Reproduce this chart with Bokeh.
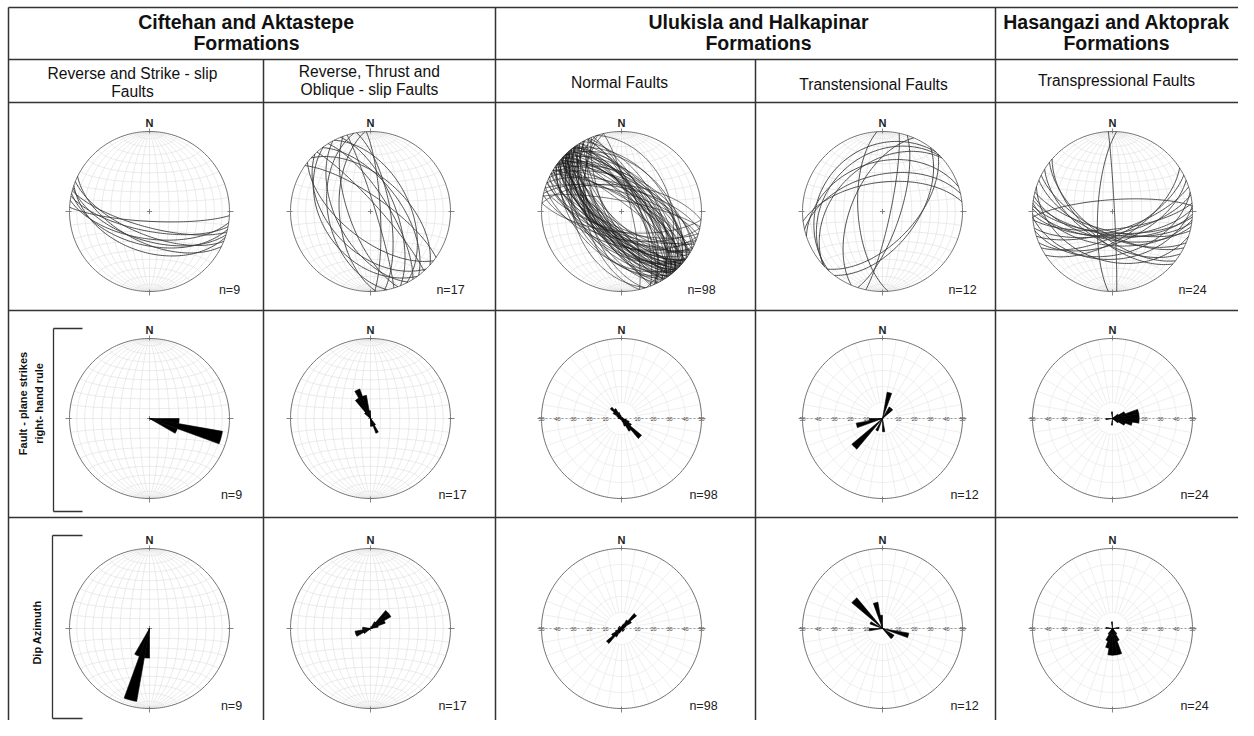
import numpy as np
from bokeh.plotting import figure
from bokeh.models import Range1d
from bokeh.embed import file_html
from bokeh.resources import INLINE
from bokeh.core.properties import value

# ---------------- data ----------------
group_titles = [["Ciftehan and Aktastepe", "Formations"],
                ["Ulukisla and Halkapinar", "Formations"],
                ["Hasangazi and Aktoprak", "Formations"]]
column_titles = [["Reverse and Strike - slip", "Faults"],
                 ["Reverse, Thrust and", "Oblique - slip Faults"],
                 ["Normal Faults"],
                 ["Transtensional Faults"],
                 ["Transpressional Faults"]]
row_labels = [["Fault - plane strikes", "right- hand rule"], ["Dip Azimuth"]]
n_counts = [9, 17, 98, 12, 24]
scale_labels = ["10", "20", "30", "40", "50"]

# fault planes: strike (right-hand rule) and dip, degrees
strikes_c1 = [93, 98, 101, 103, 105, 107, 109, 112, 116]
dips_c1 = [80, 62, 70, 55, 74, 60, 48, 66, 58]

strikes_c2 = [305, 312, 318, 323, 328, 333, 338, 343, 350, 357,
              128, 136, 144, 152, 160, 168, 176]
dips_c2 = [75, 55, 82, 60, 72, 50, 65, 85, 70, 80,
           62, 48, 40, 55, 68, 46, 58]

strikes_c3 = [102, 106, 108, 111, 114, 116, 119, 121, 122, 124,
              125, 127, 128, 129, 130, 131, 132, 133, 134, 134,
              135, 136, 136, 137, 138, 138, 139, 139, 131, 140,
              141, 142, 143, 144, 145, 146, 147, 148, 149, 151,
              153, 156, 158, 162, 167, 283, 287, 291, 295, 298,
              301, 303, 305, 307, 309, 310, 311, 312, 314, 315,
              316, 318, 319, 320, 322, 323, 325, 326, 328, 329,
              331, 334, 336, 339, 342, 347, 112, 118, 126, 133,
              137, 141, 144, 152, 301, 306, 313, 317, 321, 324,
              308, 298, 96, 276, 281, 163, 335, 127]
dips_c3 = [62, 70, 55, 68, 74, 58, 66, 72, 60, 78,
           52, 65, 70, 63, 57, 75, 68, 61, 42, 80,
           66, 71, 59, 64, 76, 50, 69, 62, 73, 58,
           67, 45, 79, 63, 70, 48, 65, 72, 60, 77,
           56, 68, 74, 40, 53, 66, 71, 64, 58, 75,
           69, 62, 57, 82, 65, 70, 52, 67, 43, 60,
           78, 63, 55, 71, 66, 59, 74, 68, 61, 76,
           54, 69, 64, 72, 38, 80, 63, 67, 50, 70,
           65, 73, 58, 62, 77, 55, 68, 71, 44, 66,
           74, 53, 69, 63, 79, 57, 72, 65]

strikes_c4 = [12, 18, 37, 44, 176, 203, 222, 226, 228, 252, 257, 263]
dips_c4 = [82, 72, 55, 58, 65, 58, 22, 30, 40, 38, 52, 60]

strikes_c5 = [57, 63, 67, 72, 128, 76, 78, 131, 84, 86, 88, 92,
              94, 96, 98, 101, 104, 108, 113, 117, 122, 357, 183, 266]
dips_c5 = [62, 66, 58, 70, 64, 45, 67, 60, 72, 40, 65, 63,
           68, 55, 66, 61, 70, 38, 64, 67, 58, 88, 75, 78]

# rose diagrams: 10-degree bin centres and counts
rose_strike_bins_c1 = [95, 105, 115]
rose_strike_counts_c1 = [2, 5, 2]
rose_dip_bins_c1 = [185, 195, 205]
rose_dip_counts_c1 = [2, 5, 2]

rose_strike_bins_c2 = [315, 325, 335, 345, 355, 145, 155, 165, 175]
rose_strike_counts_c2 = [1, 3, 4, 3, 1, 1, 2, 1, 1]
rose_dip_bins_c2 = [35, 45, 55, 65, 75, 235, 245, 255, 265, 275]
rose_dip_counts_c2 = [1, 3, 3, 2, 1, 1, 2, 2, 1, 1]

rose_strike_bins_c3 = [105, 115, 125, 135, 145, 155, 165, 285, 295, 305,
                       315, 325, 335, 345, 45, 75, 225, 255, 85, 275]
rose_strike_counts_c3 = [3, 5, 7, 16, 9, 5, 2, 2, 3, 6,
                         9, 7, 4, 2, 1, 1, 1, 1, 1, 2]
rose_dip_bins_c3 = [5, 15, 25, 35, 45, 55, 65, 75, 185, 195,
                    205, 215, 225, 235, 245, 255, 95, 105, 125, 135,
                    155, 165, 265, 275, 285, 305, 315, 335, 345, 85]
rose_dip_counts_c3 = [1, 2, 3, 6, 12, 7, 3, 2, 1, 2,
                      3, 6, 12, 7, 4, 2, 1, 2, 1, 2,
                      2, 1, 2, 1, 2, 1, 2, 1, 1, 1]

rose_strike_bins_c4 = [15, 35, 45, 175, 205, 225, 255, 265]
rose_strike_counts_c4 = [2, 1, 1, 1, 1, 3, 2, 1]
rose_dip_bins_c4 = [105, 125, 135, 265, 295, 315, 345, 355]
rose_dip_counts_c4 = [2, 1, 1, 1, 1, 3, 2, 1]

rose_strike_bins_c5 = [55, 65, 75, 85, 95, 105, 115, 125, 355, 185, 265]
rose_strike_counts_c5 = [1, 2, 4, 4, 4, 3, 2, 1, 1, 1, 1]
rose_dip_bins_c5 = [145, 155, 165, 175, 185, 195, 205, 215, 85, 275, 355]
rose_dip_counts_c5 = [1, 2, 4, 4, 4, 3, 2, 1, 1, 1, 1]

great_circles = [(strikes_c1, dips_c1), (strikes_c2, dips_c2), (strikes_c3, dips_c3),
                 (strikes_c4, dips_c4), (strikes_c5, dips_c5)]
strike_roses = [(rose_strike_bins_c1, rose_strike_counts_c1), (rose_strike_bins_c2, rose_strike_counts_c2),
                (rose_strike_bins_c3, rose_strike_counts_c3), (rose_strike_bins_c4, rose_strike_counts_c4),
                (rose_strike_bins_c5, rose_strike_counts_c5)]
dip_roses = [(rose_dip_bins_c1, rose_dip_counts_c1), (rose_dip_bins_c2, rose_dip_counts_c2),
             (rose_dip_bins_c3, rose_dip_counts_c3), (rose_dip_bins_c4, rose_dip_counts_c4),
             (rose_dip_bins_c5, rose_dip_counts_c5)]

# ---------------- layout ----------------
FONT = value("Liberation Sans")
col_x = [149, 370, 621, 882, 1112]
row_y = [211, 418, 628]
R = 80

p = figure(width=1238, height=720, output_backend="svg", toolbar_location=None,
           x_range=Range1d(0, 1238), y_range=Range1d(720, 0), min_border=0,
           background_fill_color="white", border_fill_color="white")
p.xaxis.visible = False
p.yaxis.visible = False
p.xgrid.visible = False
p.ygrid.visible = False
p.outline_line_color = None


def proj(v, cx, cy, r0):
    e, nn, dn = v[..., 0], v[..., 1], np.clip(v[..., 2], 0, 1)
    pl = np.arcsin(dn)
    tr = np.arctan2(e, nn)
    r = r0 * np.sqrt(2) * np.sin((np.pi / 2 - pl) / 2)
    return cx + r * np.sin(tr), cy - r * np.cos(tr)


def great_circle(strike, dip, cx, cy, r0, n=90):
    s = np.radians(strike)
    a = s + np.pi / 2
    d = np.radians(dip)
    t = np.linspace(0, np.pi, n)
    S = np.array([np.sin(s), np.cos(s), 0.0])
    D = np.array([np.sin(a) * np.cos(d), np.cos(a) * np.cos(d), np.sin(d)])
    v = np.outer(np.cos(t), S) + np.outer(np.sin(t), D)
    return proj(v, cx, cy, r0)


def net_grid(cx, cy, r0):
    xs, ys = [], []
    for d in range(10, 90, 10):
        for s in (0, 180):
            x, y = great_circle(s, d, cx, cy, r0, 60)
            xs.append(list(x)); ys.append(list(y))
    xs.append([cx, cx]); ys.append([cy - r0, cy + r0])
    xs.append([cx - r0, cx + r0]); ys.append([cy, cy])
    phi = np.linspace(0, np.pi, 60)
    for b in range(10, 90, 10):
        br = np.radians(b)
        for sg in (1, -1):
            v = np.stack([np.sin(br) * np.cos(phi), sg * np.cos(br) * np.ones_like(phi),
                          np.sin(br) * np.sin(phi)], axis=-1)
            x, y = proj(v, cx, cy, r0)
            xs.append(list(x)); ys.append(list(y))
    return xs, ys


def polar_grid(cx, cy, r0):
    xs, ys = [], []
    th = np.linspace(0, 2 * np.pi, 120)
    for k in range(1, 5):
        rr = r0 * k / 5
        xs.append(list(cx + rr * np.cos(th))); ys.append(list(cy + rr * np.sin(th)))
    for a in range(0, 360, 10):
        ar = np.radians(a)
        xs.append([cx + r0 / 5 * np.sin(ar), cx + r0 * np.sin(ar)])
        ys.append([cy - r0 / 5 * np.cos(ar), cy - r0 * np.cos(ar)])
    return xs, ys


def petals(bins, counts, n, cx, cy, r0, vmax):
    xs, ys = [], []
    for b, c in zip(bins, counts):
        L = (c / n * 100.0) / vmax * r0
        a = np.radians(np.linspace(b - 5, b + 5, 8))
        xs.append([cx] + list(cx + L * np.sin(a)))
        ys.append([cy] + list(cy - L * np.cos(a)))
    return xs, ys


grid_xs, grid_ys = [], []
pg_xs, pg_ys = [], []
gc_xs, gc_ys, gc_dense_xs, gc_dense_ys = [], [], [], []
pet_xs, pet_ys = [], []
out_xs, out_ys = [], []
tick_x0, tick_y0, tick_x1, tick_y1 = [], [], [], []
n_tx, n_ty, n_txt = [], [], []
N_x, N_y = [], []
sc_x, sc_y, sc_t = [], [], []
dash_x0, dash_x1, dash_y = [], [], []

th = np.linspace(0, 2 * np.pi, 240)
n_offsets = [(80, 78), (82, 76), (82, 77)]
for ri, cy in enumerate(row_y):
    for ci, cx in enumerate(col_x):
        n = n_counts[ci]
        polar = (ri > 0 and ci >= 2)
        if polar:
            gx, gy = polar_grid(cx, cy, R)
            pg_xs += gx; pg_ys += gy
        else:
            gx, gy = net_grid(cx, cy, R)
            grid_xs += gx; grid_ys += gy
        out_xs.append(list(cx + R * np.cos(th))); out_ys.append(list(cy + R * np.sin(th)))
        tick_x0 += [cx + R - 2, cx - R - 4, cx, cx]
        tick_x1 += [cx + R + 4, cx - R + 2, cx, cx]
        tick_y0 += [cy, cy, cy + R - 2, cy - R - 3]
        tick_y1 += [cy, cy, cy + R + 4, cy - R + 2]
        if not polar:
            tick_x0 += [cx - 2.5, cx]; tick_x1 += [cx + 2.5, cx]
            tick_y0 += [cy, cy - 2.5]; tick_y1 += [cy, cy + 2.5]
        N_x.append(cx); N_y.append(cy - R - 9)
        n_tx.append(cx + n_offsets[ri][0]); n_ty.append(cy + n_offsets[ri][1])
        n_txt.append("n=%d" % n)
        if ri == 0:
            st, dp = great_circles[ci]
            for s, d in zip(st, dp):
                x, y = great_circle(s, d, cx, cy, R)
                if n > 50:
                    gc_dense_xs.append(list(x)); gc_dense_ys.append(list(y))
                else:
                    gc_xs.append(list(x)); gc_ys.append(list(y))
        else:
            bins, counts = (strike_roses if ri == 1 else dip_roses)[ci]
            vmax = 50.0 if polar else 60.0
            px, py = petals(bins, counts, n, cx, cy, R, vmax)
            pet_xs += px; pet_ys += py
            if polar:
                dash_x0.append(cx - R); dash_x1.append(cx + R); dash_y.append(cy)
                for k, lab in enumerate(scale_labels):
                    off = R * (k + 1) / 5
                    sc_x += [cx - off, cx + off]; sc_y += [cy, cy]; sc_t += [lab, lab]

p.multi_line(grid_xs, grid_ys, line_color="#dedede", line_width=0.6)
p.multi_line(pg_xs, pg_ys, line_color="#e4e4e4", line_width=0.6)
p.segment(x0=dash_x0, y0=dash_y, x1=dash_x1, y1=dash_y, line_color="#8a8a8a",
          line_width=0.8, line_dash="2 2")
p.text(x=sc_x, y=sc_y, text=sc_t, text_font=FONT, text_font_size="5.5px",
       text_color="#444", text_align="center", text_baseline="middle")
p.multi_line(out_xs, out_ys, line_color="#6f6f6f", line_width=1.0)
p.segment(x0=tick_x0, y0=tick_y0, x1=tick_x1, y1=tick_y1, line_color="#777", line_width=0.9)
p.multi_line(gc_xs, gc_ys, line_color="#3c3c3c", line_width=0.9)
p.multi_line(gc_dense_xs, gc_dense_ys, line_color="#1a1a1a", line_width=0.8, line_alpha=0.75)
p.patches(pet_xs, pet_ys, fill_color="black", line_color="black", line_width=0.6)

p.text(x=N_x, y=N_y, text=["N"] * len(N_x), text_font=FONT, text_font_size="11px",
       text_font_style="bold", text_color="#222", text_align="center", text_baseline="middle")
p.text(x=n_tx, y=n_ty, text=n_txt, text_font=FONT, text_font_size="12.5px",
       text_color="#222", text_align="center", text_baseline="middle")

# ---------------- table frame ----------------
hx0 = [8, 8, 8, 8, 8]
hx1 = [1238, 1238, 1238, 1238, 1238]
hy = [7, 59, 102, 310, 517]
p.segment(x0=hx0, y0=hy, x1=hx1, y1=hy, line_color="#333", line_width=1.5)
vx = [8, 263, 495, 755, 995]
vy0 = [7, 59, 7, 59, 7]
vy1 = [720, 720, 720, 720, 720]
p.segment(x0=vx, y0=vy0, x1=vx, y1=vy1, line_color="#333", line_width=1.5)

# header texts
g_cx = [246, 758, 1116]
gx, gy, gt = [], [], []
for i, lines in enumerate(group_titles):
    for j, t in enumerate(lines):
        gx.append(g_cx[i]); gy.append(21 + 21 * j); gt.append(t)
p.text(x=gx, y=gy, text=gt, text_font=FONT, text_font_size="19.5px", text_font_style="bold",
       text_color="#111", text_align="center", text_baseline="middle")

c_pos = [(132, 73), (369, 71), (619, 82), (873, 84), (1116, 80)]
cxs, cys, cts = [], [], []
for i, lines in enumerate(column_titles):
    for j, t in enumerate(lines):
        cxs.append(c_pos[i][0]); cys.append(c_pos[i][1] + 18 * j); cts.append(t)
p.text(x=cxs, y=cys, text=cts, text_font=FONT, text_font_size="15.6px",
       text_color="#111", text_align="center", text_baseline="middle")

# row brackets and vertical labels
bx = [53, 53, 53, 52, 52, 52]
by0 = [328, 328, 511, 535, 535, 718]
bx1 = [53, 82, 82, 52, 82, 82]
by1 = [511, 328, 511, 718, 535, 718]
p.segment(x0=bx, y0=by0, x1=bx1, y1=by1, line_color="#333", line_width=1.3)
p.text(x=[22, 38, 36], y=[403, 403, 632], text=[row_labels[0][0], row_labels[0][1], row_labels[1][0]],
       text_font=FONT, text_font_size="11px", text_font_style="bold", text_color="#111",
       text_align="center", text_baseline="middle", angle=np.pi / 2)

open("out.html", "w").write(file_html(p, INLINE))
